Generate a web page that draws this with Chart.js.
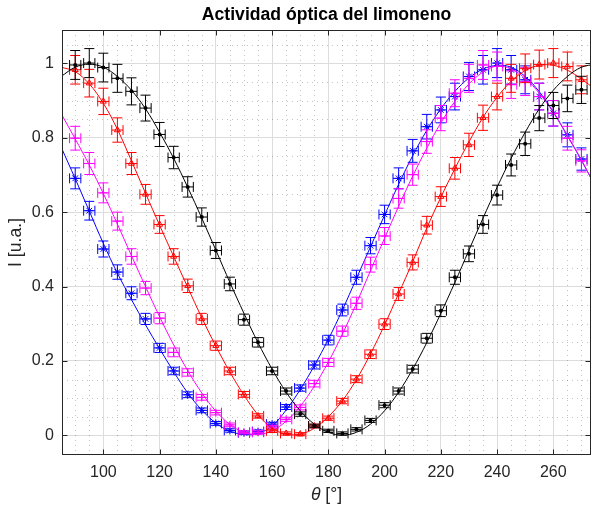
<!DOCTYPE html>
<html><head><meta charset="utf-8">
<script src="https://cdn.jsdelivr.net/npm/chart.js@4.4.1/dist/chart.umd.min.js"></script>
<style>html,body{margin:0;padding:0;background:#fff}#wrap{width:596px;height:510px}</style>
</head><body><div id="wrap"><canvas id="c" width="596" height="510"></canvas></div>
<script>
// ---------- data ----------
const angles = [90,95,100,105,110,115,120,125,130,135,140,145,150,155,160,165,170,175,180,185,190,195,200,205,210,215,220,225,230,235,240,245,250,255,260,265,270];
const blackData = [0.996,1.001,0.989,0.960,0.925,0.880,0.809,0.747,0.668,0.587,0.497,0.407,0.311,0.250,0.173,0.119,0.057,0.025,0.012,0.005,0.016,0.040,0.081,0.119,0.178,0.261,0.335,0.425,0.488,0.567,0.646,0.727,0.784,0.853,0.887,0.906,0.929];
const redData = [0.983,0.947,0.898,0.821,0.731,0.648,0.567,0.481,0.402,0.313,0.241,0.173,0.110,0.052,0.012,0.005,0.003,0.025,0.046,0.092,0.151,0.218,0.299,0.380,0.465,0.565,0.642,0.718,0.781,0.854,0.911,0.960,0.987,0.997,1.001,0.992,0.956];
const magentaData = [0.799,0.731,0.652,0.576,0.481,0.396,0.315,0.223,0.169,0.102,0.061,0.028,0.008,0.008,0.022,0.043,0.075,0.139,0.196,0.280,0.355,0.459,0.536,0.637,0.701,0.790,0.853,0.920,0.960,0.996,0.992,0.943,0.951,0.911,0.866,0.799,0.738];
const blueData = [0.691,0.604,0.501,0.439,0.382,0.313,0.235,0.173,0.109,0.067,0.032,0.013,0.007,0.010,0.030,0.076,0.127,0.189,0.256,0.337,0.425,0.510,0.594,0.691,0.765,0.830,0.875,0.911,0.965,0.983,1.001,0.983,0.956,0.911,0.866,0.808,0.743];

// fitted curves
const fitAngles = [85,90,95,100,105,110,115,120,125,130,135,140,145,150,155,160,165,170,175,180,185,190,195,200,205,210,215,220,225,230,235,240,245,250,255,260,265,270,275];
const blackFit = [0.965,0.99,0.998,0.99,0.965,0.928,0.878,0.815,0.745,0.667,0.584,0.498,0.411,0.328,0.249,0.178,0.116,0.066,0.03,0.008,0,0.008,0.03,0.066,0.116,0.178,0.249,0.328,0.411,0.498,0.584,0.667,0.745,0.815,0.878,0.928,0.965,0.99,0.998];
const redFit = [0.99,0.978,0.945,0.893,0.823,0.738,0.651,0.565,0.481,0.398,0.316,0.240,0.170,0.108,0.055,0.019,0.003,0.003,0.019,0.050,0.093,0.150,0.219,0.297,0.381,0.467,0.557,0.640,0.717,0.789,0.855,0.909,0.952,0.981,0.995,0.995,0.982,0.958,0.93];
const magentaFit = [0.865,0.797,0.727,0.650,0.568,0.483,0.400,0.319,0.243,0.174,0.114,0.065,0.029,0.008,0.002,0.012,0.038,0.078,0.132,0.197,0.272,0.355,0.443,0.530,0.616,0.697,0.772,0.840,0.898,0.945,0.977,0.993,0.985,0.96,0.92,0.868,0.805,0.74,0.668];
const blueFit = [0.775,0.69,0.603,0.516,0.436,0.365,0.297,0.233,0.171,0.114,0.068,0.033,0.011,0.002,0.005,0.025,0.068,0.123,0.187,0.258,0.337,0.422,0.507,0.592,0.675,0.752,0.82,0.878,0.925,0.961,0.985,0.995,0.99,0.965,0.924,0.87,0.806,0.74,0.668];

const xTicks = [100,120,140,160,180,200,220,240,260];
const yTicks = [0,0.2,0.4,0.6,0.8,1];
const yTickLabels = ['0','0.2','0.4','0.6','0.8','1'];
const xMinor = [90,95,105,110,115,125,130,135,145,150,155,165,170,175,185,190,195,205,210,215,225,230,235,245,250,255,265,270];
const yMinor = [-0.05,0.05,0.1,0.15,0.25,0.3,0.35,0.45,0.5,0.55,0.65,0.7,0.75,0.85,0.9,0.95,1.05];

// measurement uncertainties
const X_ERR = 2;          // degrees
const Y_REL_ERR = 0.035;  // relative
const Y_ABS_ERR = 0.004;  // absolute floor

const FONT = '"Liberation Sans", Arial, Helvetica, sans-serif';
const AX = '#262626';

function pts(xs, ys){ return xs.map((x,i)=>({x:x, y:ys[i]})); }

function fitSet(ys, color){
  return {data: pts(fitAngles, ys), showLine:true, borderColor:color, borderWidth:1,
          pointRadius:0, tension:0.35, fill:false};
}
function dataSet(ys, color, style, r){
  return {data: pts(angles, ys), showLine:false, borderColor:color,
          backgroundColor: style==='circle' ? color : 'rgba(0,0,0,0)',
          pointStyle:style, pointRadius:r, pointBorderWidth: style==='circle'?0:1,
          errorBars:true};
}

const errorBarPlugin = {
  id:'errorBars',
  beforeDatasetDraw(chart, args){
    const ds = chart.data.datasets[args.index];
    if(!ds.errorBars) return;
    const xs = chart.scales.x, ys = chart.scales.y, ctx = chart.ctx, a = chart.chartArea;
    ctx.save();
    ctx.beginPath(); ctx.rect(a.left, a.top, a.right-a.left, a.bottom-a.top); ctx.clip();
    ctx.strokeStyle = ds.borderColor; ctx.lineWidth = 1;
    const cap = 5;
    ds.data.forEach(p=>{
      const ey = Y_REL_ERR*p.y + Y_ABS_ERR;
      const px = xs.getPixelForValue(p.x), py = ys.getPixelForValue(p.y);
      const y1 = ys.getPixelForValue(p.y-ey), y2 = ys.getPixelForValue(p.y+ey);
      const x1 = xs.getPixelForValue(p.x-X_ERR), x2 = xs.getPixelForValue(p.x+X_ERR);
      ctx.beginPath();
      ctx.moveTo(px, y1); ctx.lineTo(px, y2);
      ctx.moveTo(px-cap, y1); ctx.lineTo(px+cap, y1);
      ctx.moveTo(px-cap, y2); ctx.lineTo(px+cap, y2);
      ctx.moveTo(x1, py); ctx.lineTo(x2, py);
      ctx.moveTo(x1, py-cap); ctx.lineTo(x1, py+cap);
      ctx.moveTo(x2, py-cap); ctx.lineTo(x2, py+cap);
      ctx.stroke();
    });
    ctx.restore();
  }
};

const framePlugin = {
  id:'frame',
  beforeDatasetsDraw(chart){
    const xs = chart.scales.x, ys = chart.scales.y, ctx = chart.ctx, a = chart.chartArea;
    ctx.save();
    ctx.strokeStyle = 'rgba(38,38,38,0.28)'; ctx.lineWidth = 1; ctx.setLineDash([1,4]);
    xMinor.forEach(v=>{ const p = Math.round(xs.getPixelForValue(v))+0.5;
      ctx.beginPath(); ctx.moveTo(p, a.top); ctx.lineTo(p, a.bottom); ctx.stroke(); });
    yMinor.forEach(v=>{ const p = Math.round(ys.getPixelForValue(v))+0.5;
      ctx.beginPath(); ctx.moveTo(a.left, p); ctx.lineTo(a.right, p); ctx.stroke(); });
    ctx.restore();
  },
  afterDraw(chart){
    const xs = chart.scales.x, ys = chart.scales.y, ctx = chart.ctx, a = chart.chartArea;
    ctx.save();
    ctx.strokeStyle = AX; ctx.lineWidth = 1;
    const L = Math.round(a.left)+0.5, R = Math.round(a.right)-0.5, T = Math.round(a.top)+0.5, B = Math.round(a.bottom)-0.5;
    ctx.strokeRect(L, T, R-L, B-T);
    const tl = 5;
    ctx.beginPath();
    xTicks.forEach(v=>{ const p = Math.round(xs.getPixelForValue(v))+0.5;
      ctx.moveTo(p, B); ctx.lineTo(p, B-tl); ctx.moveTo(p, T); ctx.lineTo(p, T+tl); });
    yTicks.forEach(v=>{ const p = Math.round(ys.getPixelForValue(v))+0.5;
      ctx.moveTo(L, p); ctx.lineTo(L+tl, p); ctx.moveTo(R, p); ctx.lineTo(R-tl, p); });
    ctx.stroke();
    // title
    const cx = (a.left + a.right)/2;
    ctx.fillStyle = '#000'; ctx.textAlign = 'center'; ctx.textBaseline = 'alphabetic';
    ctx.font = 'bold 17.6px ' + FONT;
    ctx.fillText('Actividad óptica del limoneno', cx, 20);
    // x axis label: italic theta + upright unit
    ctx.fillStyle = AX;
    const f1 = 'italic 17.6px ' + FONT, f2 = '17.6px ' + FONT;
    ctx.font = f1; const w1 = ctx.measureText('θ').width;
    ctx.font = f2; const w2 = ctx.measureText(' [°]').width;
    const x0 = cx - (w1+w2)/2;
    ctx.textAlign = 'left'; ctx.textBaseline = 'middle';
    ctx.font = f1; ctx.fillText('θ', x0, 495);
    ctx.font = f2; ctx.fillText(' [°]', x0 + w1, 495);
    ctx.restore();
  }
};

new Chart(document.getElementById('c'), {
  type:'scatter',
  data:{ datasets:[
    fitSet(blackFit,'#000000'), dataSet(blackData,'#000000','circle',2),
    fitSet(redFit,'#ff0000'), dataSet(redData,'#ff0000','triangle',3.5),
    fitSet(magentaFit,'#ff00ff'), dataSet(magentaData,'#ff00ff','cross',4),
    fitSet(blueFit,'#0000ff'), dataSet(blueData,'#0000ff','star',4)
  ]},
  options:{
    responsive:false, animation:false, devicePixelRatio:1,
    layout:{padding:{top:30, right:1, left:0, bottom:0}},
    plugins:{legend:{display:false}, tooltip:{enabled:false}, title:{display:false}},
    scales:{
      x:{type:'linear', min:85.3, max:273.4,
         afterBuildTicks(s){ s.ticks = xTicks.map(v=>({value:v})); },
         afterFit(s){ s.height = 55; },
         ticks:{callback:(v)=>String(v), font:{family:FONT, size:16}, color:AX, padding:8, maxRotation:0, autoSkip:false},
         grid:{color:'#dcdcdc', drawTicks:false, lineWidth:1},
         border:{display:false},
         title:{display:false}},
      y:{type:'linear', min:-0.053, max:1.09,
         afterBuildTicks(s){ s.ticks = yTicks.map(v=>({value:v})); },
         afterFit(s){ s.width = 62; },
         ticks:{callback:(v)=>{ const i = yTicks.findIndex(t=>Math.abs(t-v)<1e-9); return i>=0 ? yTickLabels[i] : ''; },
                font:{family:FONT, size:16}, color:AX, padding:8, autoSkip:false},
         grid:{color:'#dcdcdc', drawTicks:false, lineWidth:1},
         border:{display:false},
         title:{display:true, text:'I [u.a.]', font:{family:FONT, size:17.6}, color:AX, padding:{top:6,bottom:0}}}
    }
  },
  plugins:[errorBarPlugin, framePlugin]
});
</script></body></html>
